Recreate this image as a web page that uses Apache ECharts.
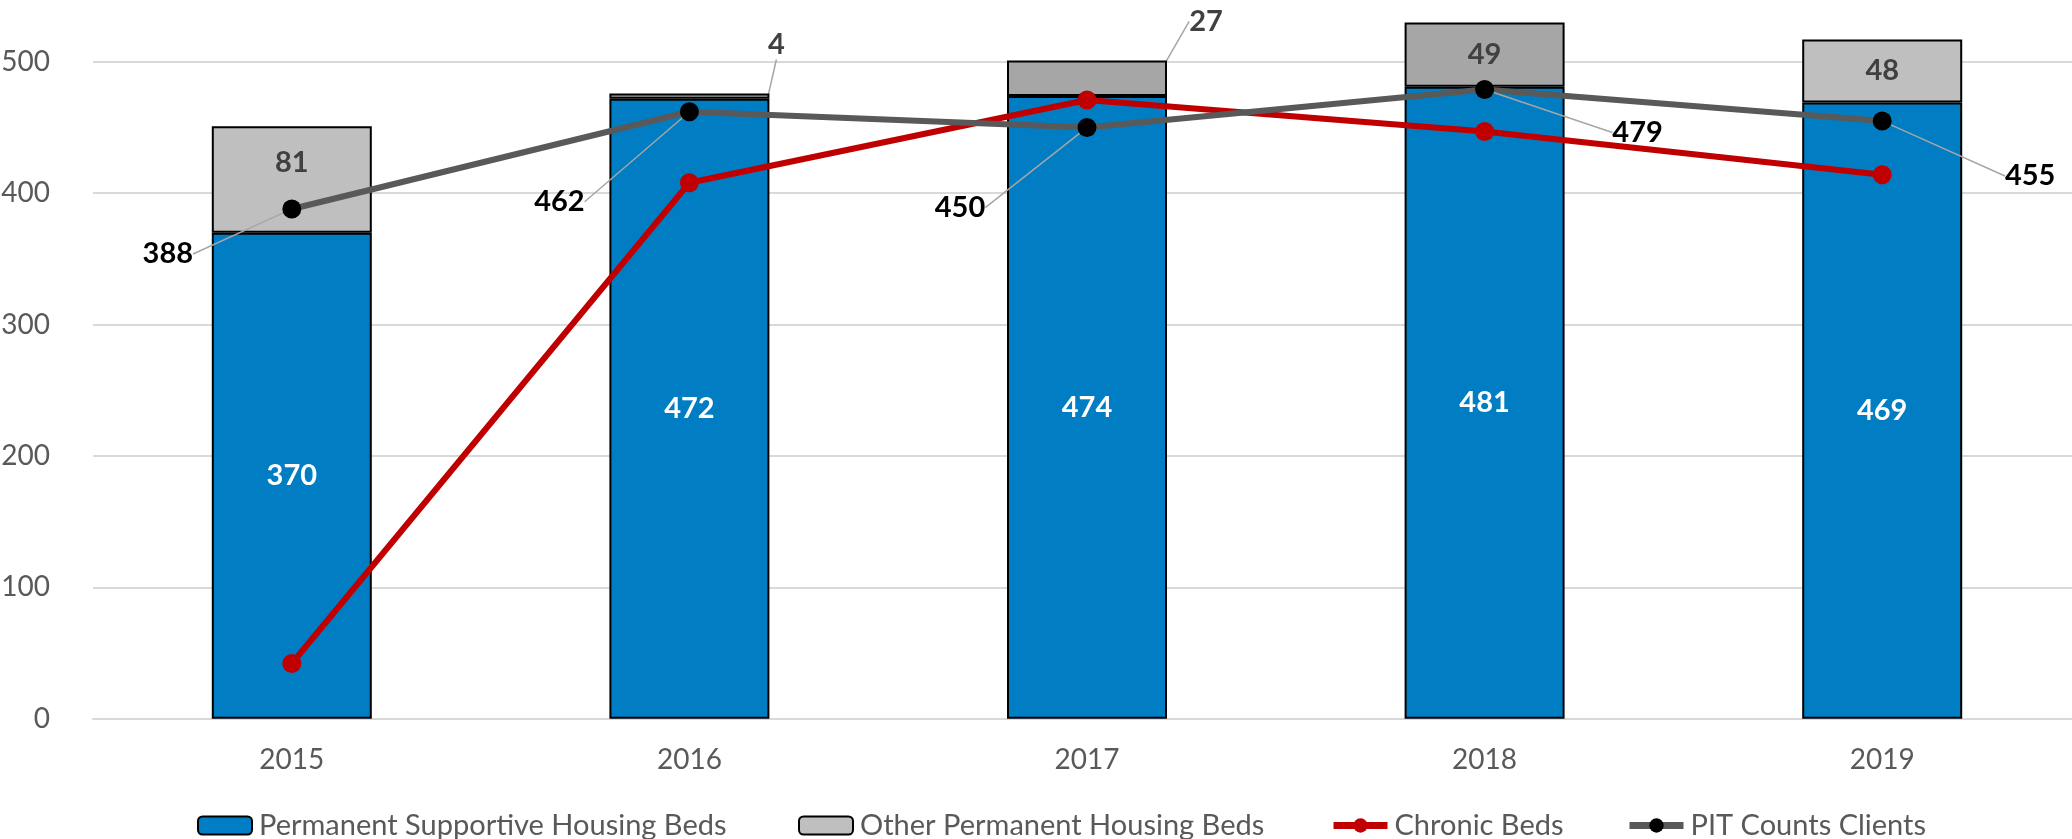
<!DOCTYPE html>
<html>
<head>
<meta charset="utf-8">
<title>Permanent Housing Beds</title>
<script src="https://cdn.jsdelivr.net/npm/echarts@6/dist/echarts.min.js"></script>
<style>
    html, body { margin: 0; padding: 0; background: #fff; }
    #chart { width: 2072px; height: 839px; }
</style>
</head>
<body>
<div id="chart"></div>
<script>
var years = ['2015', '2016', '2017', '2018', '2019'];
var supportiveBeds = [370, 472, 474, 481, 469];
var otherBeds = [81, 4, 27, 49, 48];
var chronicBeds = [42, 408, 471, 447, 414];
var pitClients = [388, 462, 450, 479, 455];
var yTicks = [0, 100, 200, 300, 400, 500];
var legendNames = ['Permanent Supportive Housing Beds', 'Other Permanent Housing Beds', 'Chronic Beds', 'PIT Counts Clients'];

// styling, kept apart from the values
var otherColors = ['#BFBFBF', '#A6A6A6', '#A6A6A6', '#A6A6A6', '#BFBFBF'];
var otherLabelOffsets = [[0, -17], [87, -51], [119, -57], [0, 0], [0, 0]];
var otherLabelLeader = [false, true, true, false, false];
var pitLabelOffsets = [[-124, 45], [-130, 90], [-127, 80], [153, 43], [148, 55]];
var legendLefts = [192, 793, 1325, 1621];

var fontName = 'Lato';
var textGrey = '#595959';

(function() {
    var chart = echarts.init(document.getElementById('chart'), null, { renderer: 'canvas' });

    // label placed at an offset from its mark, with an Excel-like leader line
    function leaderLayout(offsets, leaders, fromTop) {
        return function(p) {
            var off = offsets[p.dataIndex];
            var mx = p.rect.x + p.rect.width / 2;
            var my = p.rect.y + p.rect.height / 2;
            var cy = fromTop ? p.rect.y : my;
            var lx = mx + off[0];
            var ly = my + off[1];
            var res = { x: lx, y: ly, align: 'center', verticalAlign: 'middle' };
            if (!leaders || leaders[p.dataIndex]) {
                var side = off[0] < 0 ? 1 : -1;
                var ex = lx + side * (p.labelRect.width / 2 + 4);
                res.labelLinePoints = [[mx, cy], [ex + side * 13, ly], [ex, ly]];
            }
            return res;
        };
    }

    var option = {
        animation: false,
        textStyle: { fontFamily: fontName },
        grid: { left: 93, right: -9, top: -69.5, bottom: 120.3, outerBoundsMode: 'none' },
        legend: legendNames.map(function(name, i) {
            return {
                left: legendLefts[i],
                top: 806,
                data: [name],
                itemWidth: 54,
                itemHeight: 18,
                itemGap: 0,
                lineStyle: { width: 7 },
                textStyle: { color: textGrey, fontSize: 29, fontFamily: fontName, padding: [0, 0, 0, 2] }
            };
        }),
        xAxis: {
            type: 'category',
            data: years,
            axisTick: { show: false },
            axisLine: { lineStyle: { color: '#D9D9D9', width: 2 } },
            axisLabel: { color: textGrey, fontSize: 28, margin: 27 }
        },
        yAxis: {
            type: 'value',
            min: 0,
            max: 600,
            interval: 100,
            axisLabel: {
                color: textGrey,
                fontSize: 28,
                margin: 43,
                formatter: function(v) { return yTicks.indexOf(v) > -1 ? String(v) : ''; }
            },
            splitLine: { lineStyle: { color: '#D9D9D9', width: 2 } }
        },
        series: [{
            name: legendNames[0],
            type: 'bar',
            stack: 'beds',
            barWidth: 160,
            data: supportiveBeds,
            itemStyle: { color: '#007DC3', borderColor: '#000', borderWidth: 2 },
            label: { show: true, position: 'inside', color: '#fff', fontSize: 29, fontWeight: 'bold' }
        }, {
            name: legendNames[1],
            type: 'bar',
            stack: 'beds',
            barWidth: 160,
            data: otherBeds.map(function(v, i) {
                return {
                    value: v,
                    itemStyle: { color: otherColors[i] },
                    labelLine: { show: otherLabelLeader[i] }
                };
            }),
            itemStyle: { color: '#BFBFBF', borderColor: '#000', borderWidth: 2 },
            label: { show: true, position: 'inside', color: '#404040', fontSize: 29, fontWeight: 'bold' },
            labelLine: { show: true, lineStyle: { color: '#A6A6A6', width: 1.5 } },
            labelLayout: leaderLayout(otherLabelOffsets, otherLabelLeader, true)
        }, {
            name: legendNames[2],
            type: 'line',
            z: 5,
            data: chronicBeds,
            symbol: 'circle',
            symbolSize: 19,
            lineStyle: { color: '#C00000', width: 6 },
            itemStyle: { color: '#C00000' }
        }, {
            name: legendNames[3],
            type: 'line',
            z: 6,
            data: pitClients,
            symbol: 'circle',
            symbolSize: 19,
            lineStyle: { color: '#595959', width: 6 },
            itemStyle: { color: '#000' },
            label: { show: true, position: 'inside', color: '#000', fontSize: 29, fontWeight: 'bold' },
            labelLine: { show: true, lineStyle: { color: '#A6A6A6', width: 1.5 } },
            labelLayout: leaderLayout(pitLabelOffsets, null, false)
        }]
    };
    chart.setOption(option);
})();
</script>
</body>
</html>
